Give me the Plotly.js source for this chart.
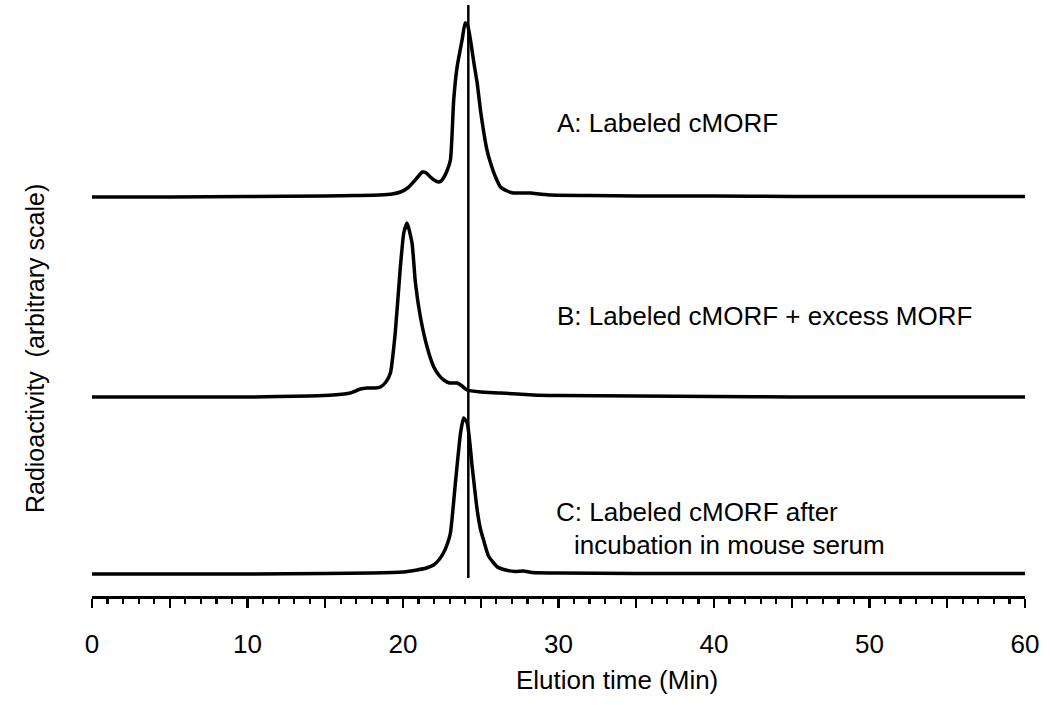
<!DOCTYPE html>
<html>
<head>
<meta charset="utf-8">
<script src="https://cdn.plot.ly/plotly-3.0.1.min.js"></script>
<style>html,body{margin:0;padding:0;background:#fff;}#chart{width:1050px;height:705px;}</style>
</head>
<body>
<div id="chart"></div>
<script>
// Elution time (min) and radioactivity (arbitrary units above each trace's baseline)
const timeA = [0, 5, 10, 15, 17, 18.5, 19.3, 19.83, 20.3, 20.67, 21.0, 21.25, 21.5, 21.76, 22.0, 22.28, 22.45, 22.6, 22.8, 23.05, 23.26, 23.48, 23.8, 24.0, 24.15, 24.34, 24.55, 24.77, 24.98, 25.2, 25.4, 25.63, 25.95, 26.27, 26.7, 27.1, 27.6, 28.2, 28.8, 29.5, 32, 35, 40, 45, 50, 55, 60];
const signalA = [0, 0, 0.5, 1, 1.5, 2, 3, 5, 9, 15, 21, 25, 24, 20, 17, 15, 16, 19, 25, 37, 97, 130, 157, 174, 172, 157, 135, 114, 87, 64, 47, 34, 20, 10, 6, 4, 4, 4, 3, 2, 1.5, 1, 1, 0.5, 0.5, 0.5, 0.5];

const timeB = [0, 5, 10, 14, 15.5, 16.6, 17.26, 17.7, 18.2, 18.55, 18.9, 19.19, 19.5, 19.83, 20.05, 20.26, 20.58, 20.8, 21.12, 21.55, 21.98, 22.3, 22.62, 23.0, 23.48, 23.8, 24.12, 25, 26.27, 28.4, 30, 35, 40, 45, 50, 55, 60];
const signalB = [0, 0, 0, 1, 2, 4, 8, 9, 9, 10, 15, 24, 64, 130, 164, 174, 154, 114, 80, 50, 30, 22, 17, 14, 14, 11, 7, 5, 4, 2, 1.5, 1, 0.5, 0, 0, 0, 0];

const timeC = [0, 5, 10, 15, 18, 20, 20.9, 21.5, 21.97, 22.3, 22.6, 22.85, 23.05, 23.37, 23.7, 23.9, 24.13, 24.45, 24.77, 24.98, 25.18, 25.5, 26.07, 26.6, 27.2, 27.75, 28.3, 30, 35, 40, 50, 60];
const signalC = [0, 0, 0, 0.5, 1, 2, 4, 6, 9, 14, 21, 30, 41, 91, 141, 156, 151, 107, 64, 45, 34, 18, 7, 4, 2.5, 3, 1.5, 1, 0.5, 0.5, 0.5, 0.5];

const traceNames = ["A: Labeled cMORF", "B: Labeled cMORF + excess MORF", "C: Labeled cMORF after"];
const labelC2 = "incubation in mouse serum";
const offsets = [399, 199, 22];           // vertical stacking of the three chromatograms
const markerTime = 24.2;                   // reference elution time line
const tickValues = [0, 5, 10, 15, 20, 25, 30, 35, 40, 45, 50, 55, 60];
const tickLabels = ["0", "", "10", "", "20", "", "30", "", "40", "", "50", "", "60"];

const FONT = "Liberation Sans, Arial, sans-serif";
const series = [[timeA, signalA], [timeB, signalB], [timeC, signalC]];
const traces = series.map((s, i) => ({
  x: s[0],
  y: s[1].map(v => v + offsets[i]),
  type: "scatter", mode: "lines",
  line: {color: "#000", width: 3.5, shape: "spline", smoothing: 0.5},
  name: traceNames[i], hoverinfo: "skip"
}));
traces.push({
  x: [markerTime, markerTime], y: [18, 591],
  type: "scatter", mode: "lines",
  line: {color: "#000", width: 2.5}, hoverinfo: "skip"
});

const layout = {
  width: 1050, height: 705,
  margin: {l: 92, r: 25, t: 0, b: 109},
  paper_bgcolor: "#fff", plot_bgcolor: "#fff",
  showlegend: false,
  font: {family: FONT, color: "#000", size: 26},
  xaxis: {
    range: [0, 60], showgrid: false, zeroline: false,
    showline: true, linecolor: "#000", linewidth: 2.5,
    ticks: "outside", ticklen: 9, tickwidth: 2.2, tickcolor: "#000",
    tickmode: "array", tickvals: tickValues, ticktext: tickLabels,
    ticklabelstandoff: 14,
    tickfont: {family: FONT, size: 26, color: "#000"},
    minor: {dtick: 1, tick0: 0, ticks: "outside", ticklen: 5, tickwidth: 2.2, tickcolor: "#000", showgrid: false}
  },
  yaxis: {range: [0, 596], visible: false, fixedrange: true},
  annotations: [
    {text: "Elution time (Min)", xref: "paper", yref: "paper", x: 0.5627, y: -0.141,
     xanchor: "center", yanchor: "middle", showarrow: false, font: {family: FONT, size: 26, color: "#000"}},
    {text: "Radioactivity\u00a0 (arbitrary scale)", xref: "paper", yref: "paper", x: -0.0611, y: 0.416,
     xanchor: "center", yanchor: "middle", textangle: -90, showarrow: false, font: {family: FONT, size: 25, color: "#000"}},
    {text: traceNames[0], xref: "x", yref: "y", x: 29.8, y: 473, xanchor: "left", yanchor: "middle", showarrow: false},
    {text: traceNames[1], xref: "x", yref: "y", x: 29.8, y: 280, xanchor: "left", yanchor: "middle", showarrow: false},
    {text: traceNames[2], xref: "x", yref: "y", x: 29.7, y: 84, xanchor: "left", yanchor: "middle", showarrow: false},
    {text: labelC2, xref: "x", yref: "y", x: 30.85, y: 51, xanchor: "left", yanchor: "middle", showarrow: false}
  ]
};

Plotly.newPlot("chart", traces, layout, {staticPlot: true, displayModeBar: false});
</script>
</body>
</html>
